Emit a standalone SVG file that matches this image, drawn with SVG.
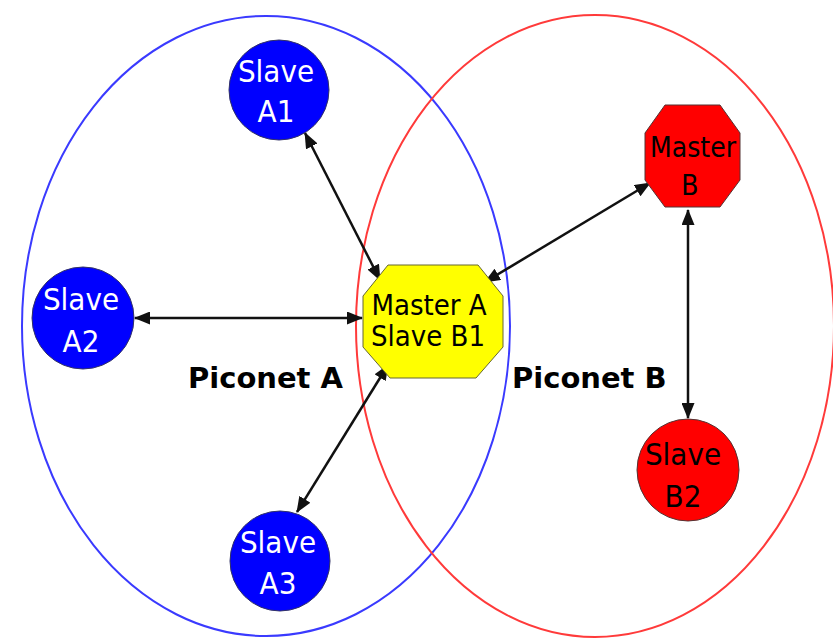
<svg xmlns="http://www.w3.org/2000/svg" width="833" height="639" viewBox="0 0 833 639">
<style>
.bg{fill:#ffffff}
.pico{fill:none;stroke-width:2}
.blue{fill:#0000ff;stroke:#333366;stroke-width:1}
.red{fill:#ff0000;stroke:#553333;stroke-width:1}
.yel{fill:#ffff00;stroke:#666633;stroke-width:1}
.lbl{font-family:"DejaVu Sans","Liberation Sans",sans-serif;font-stretch:condensed;text-anchor:middle}
.w{fill:#ffffff;font-size:31px}
.k{fill:#000000;font-size:28px}
.title{font-family:"DejaVu Sans","Liberation Sans",sans-serif;font-weight:bold;font-size:29px;fill:#000}
.conn line{stroke:#111;stroke-width:2.5;marker-start:url(#ah);marker-end:url(#ah)}
</style>
<defs>
<marker id="ah" markerUnits="userSpaceOnUse" markerWidth="16" markerHeight="13" refX="15" refY="6.5" orient="auto-start-reverse" viewBox="0 0 16 13">
<path d="M0,0 L16,6.5 L0,13 z" fill="#111"/>
</marker>
</defs>
<rect class="bg" x="0" y="0" width="833" height="639"/>
<g id="piconetA">
<ellipse class="pico" cx="266" cy="326" rx="244" ry="310" stroke="#3a3aff"/>
<text class="title" x="188" y="388">Piconet A</text>
</g>
<g id="piconetB">
<ellipse class="pico" cx="595" cy="326" rx="239" ry="311" stroke="#ff3a3a"/>
<text class="title" x="512" y="388">Piconet B</text>
</g>
<g id="connectors" class="conn">
<line x1="305" y1="133" x2="380" y2="280"/>
<line x1="135" y1="318" x2="362" y2="318"/>
<line x1="388" y1="365" x2="297" y2="512"/>
<line x1="485" y1="282" x2="650" y2="183"/>
<line x1="688" y1="210" x2="688" y2="418"/>
</g>
<g id="slaveA1">
<circle class="blue" cx="279" cy="90" r="50"/>
<text class="lbl w" x="276" y="82">Slave</text>
<text class="lbl w" x="276" y="122">A1</text>
</g>
<g id="slaveA2">
<circle class="blue" cx="83" cy="318" r="51"/>
<text class="lbl w" x="81" y="310">Slave</text>
<text class="lbl w" x="81" y="352">A2</text>
</g>
<g id="slaveA3">
<circle class="blue" cx="280" cy="561" r="50"/>
<text class="lbl w" x="278" y="553">Slave</text>
<text class="lbl w" x="278" y="594">A3</text>
</g>
<g id="masterA">
<polygon class="yel" points="388,265 478,265 503,296 503,347 476,378 390,378 363,347 363,296"/>
<text class="lbl k" x="429" y="315" style="font-size:29px">Master A</text>
<text class="lbl k" x="428" y="346" style="font-size:29px">Slave B1</text>
</g>
<g id="masterB">
<polygon class="red" points="665,105 720,105 740,133 740,180 720,207 665,207 645,180 645,133"/>
<text class="lbl k" x="693" y="157">Master</text>
<text class="lbl k" x="690" y="195">B</text>
</g>
<g id="slaveB2">
<circle class="red" cx="688" cy="470" r="51"/>
<text class="lbl k" x="683" y="465" style="font-size:31px">Slave</text>
<text class="lbl k" x="683" y="507" style="font-size:31px">B2</text>
</g>
</svg>
